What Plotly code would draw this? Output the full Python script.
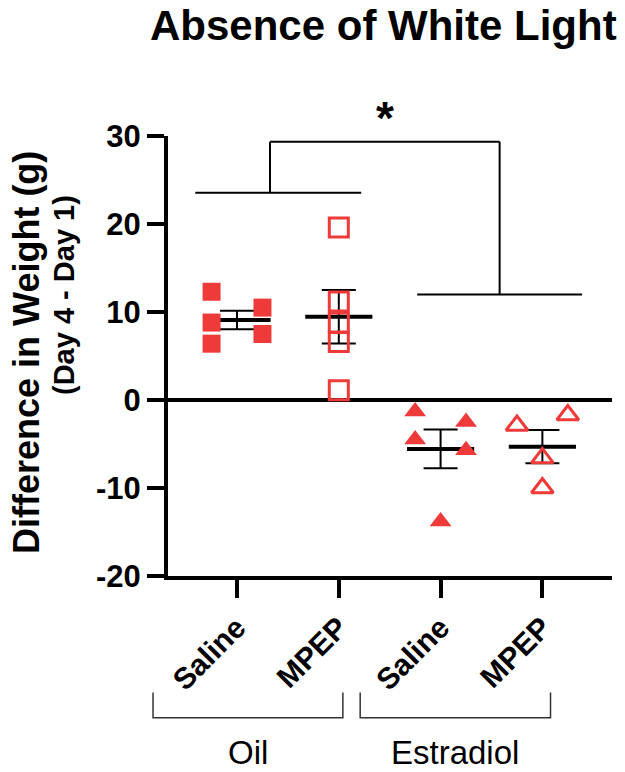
import numpy as np
import plotly.graph_objects as go

# values (g, Day 4 - Day 1)
groups = ["Oil", "Estradiol"]
tick_text = ["Saline", "MPEP", "Saline", "MPEP"]
y_ticks = [-20, -10, 0, 10, 20, 30]
oil_saline = [12.3, 8.8, 6.4, 10.5, 7.5]
oil_mpep = [19.6, 11.2, 8.8, 6.6, 1.1]
est_saline = [-1.3, -4.5, -2.5, -5.7, -13.8]
est_mpep = [-2.9, -1.7, -6.6, -10.0]

# horizontal scatter of the dots inside each column
jitter = [
    [-0.25, -0.25, -0.25, 0.25, 0.25],
    [0, 0, 0, 0, 0],
    [-0.25, -0.25, 0.25, 0.25, 0],
    [-0.25, 0.25, 0, 0],
]

RED = "#EF3A3A"
FONT = "Liberation Sans, Arial, sans-serif"
X_LO, X_HI = -0.678, 3.684

series = [oil_saline, oil_mpep, est_saline, est_mpep]
symbols = ["square", "square-open", "triangle-up", "triangle-up-open"]
sizes = [18, 19, 19, 19]

fig = go.Figure()

# mean line + SEM whiskers
for i, vals in enumerate(series):
    v = np.array(vals)
    mean = v.mean()
    sem = v.std(ddof=1) / np.sqrt(len(v))
    fig.add_trace(go.Scatter(
        x=[i], y=[mean], mode="markers",
        marker=dict(size=1, color="rgba(0,0,0,0)"),
        error_y=dict(type="data", array=[sem], color="black", thickness=2, width=17),
        error_x=dict(type="data", array=[0.33], color="black", thickness=4, width=0),
        showlegend=False, hoverinfo="skip",
    ))

for i, vals in enumerate(series):
    open_sym = symbols[i].endswith("open")
    fig.add_trace(go.Scatter(
        x=[i + j for j in jitter[i]], y=vals, mode="markers",
        marker=dict(symbol=symbols[i], size=sizes[i], color=RED,
                    line=dict(color=RED, width=3 if open_sym else 0)),
        showlegend=False,
    ))

# significance bracket
blk = dict(color="black", width=2)
fig.add_shape(type="line", x0=-0.41, x1=1.22, y0=23.56, y1=23.56, line=blk)
fig.add_shape(type="line", x0=1.77, x1=3.39, y0=12.0, y1=12.0, line=blk)
fig.add_shape(type="line", x0=0.324, x1=0.324, y0=23.56, y1=29.35, line=blk)
fig.add_shape(type="line", x0=2.58, x1=2.58, y0=12.0, y1=29.35, line=blk)
fig.add_shape(type="line", x0=0.324, x1=2.58, y0=29.35, y1=29.35, line=blk)
fig.add_annotation(x=1.45, xref="x", yref="paper", y=(576 - 118) / 440, text="<b>*</b>",
                   showarrow=False, font=dict(family=FONT, size=46, color="black"),
                   xanchor="center", yanchor="middle")


def to_paper(xv):
    return (xv - X_LO) / (X_HI - X_LO)


# group brackets under the tick labels
thin = dict(color="#333333", width=1.5)
for k, (a, b) in enumerate([(-0.825, 1.04), (1.21, 3.08)]):
    pa, pb = to_paper(a), to_paper(b)
    fig.add_shape(type="path", xref="paper", yref="paper",
                  path=f"M {pa},-0.265 L {pa},-0.322 L {pb},-0.322 L {pb},-0.265",
                  line=thin)
    fig.add_annotation(xref="paper", yref="paper", x=(pa + pb) / 2, y=-0.402,
                       text=groups[k], showarrow=False,
                       font=dict(family=FONT, size=33, color="black"),
                       xanchor="center", yanchor="middle")

# title and y-axis title
fig.add_annotation(xref="paper", yref="paper", x=0.485, y=576 / 440,
                   text="<b>Absence of White Light</b>", showarrow=False,
                   font=dict(family=FONT, size=42, color="black"),
                   xanchor="center", yanchor="top")
fig.add_annotation(xref="paper", yref="paper", x=(26 - 168) / 444, y=(576 - 353) / 440,
                   text="<b>Difference in Weight (g)</b>", textangle=-90, showarrow=False,
                   font=dict(family=FONT, size=36, color="black"),
                   xanchor="center", yanchor="middle")
fig.add_annotation(xref="paper", yref="paper", x=(64 - 168) / 444, y=(576 - 295) / 440,
                   text="<b>(Day 4 - Day 1)</b>", textangle=-90, showarrow=False,
                   font=dict(family=FONT, size=29, color="black"),
                   xanchor="center", yanchor="middle")

fig.update_xaxes(
    range=[X_LO, X_HI], tickvals=[0, 1, 2, 3], ticktext=tick_text, tickangle=-45,
    showline=True, linecolor="black", linewidth=4, ticks="outside", ticklen=18,
    tickwidth=4, tickcolor="black", showgrid=False, zeroline=False,
    tickfont=dict(family=FONT, size=30, color="black", weight="bold"),
)
fig.update_yaxes(
    range=[-20, 30], tickvals=y_ticks, ticktext=[str(t) for t in y_ticks],
    showline=True, linecolor="black", linewidth=4, ticks="outside", ticklen=17,
    tickwidth=4, tickcolor="black", showgrid=False,
    zeroline=True, zerolinecolor="black", zerolinewidth=4,
    tickfont=dict(family=FONT, size=31, color="black", weight="bold"),
)
fig.update_layout(
    width=625, height=772,
    margin=dict(l=168, r=13, t=136, b=196),
    plot_bgcolor="white", paper_bgcolor="white",
    showlegend=False,
)

fig.write_html("out.html", config={"displayModeBar": False},
               post_script="document.body.style.margin='0';")
